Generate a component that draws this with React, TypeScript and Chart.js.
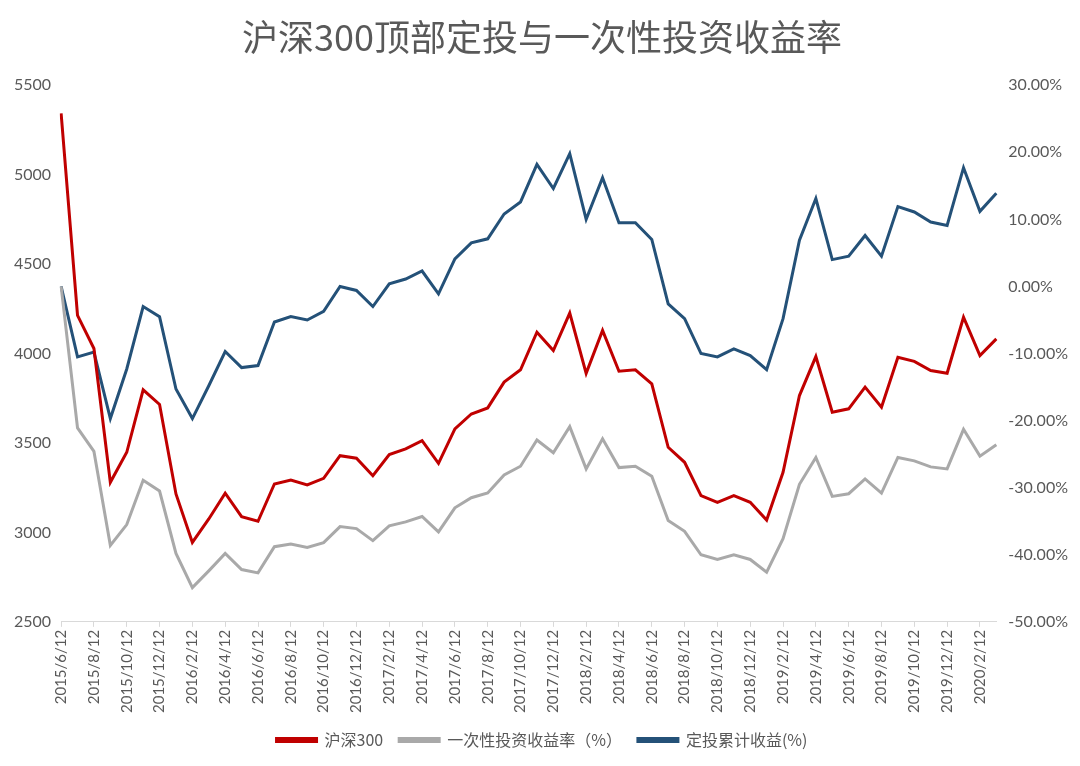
import React, { useEffect, useRef } from 'react';
import { Chart, registerables } from 'chart.js';

Chart.register(...registerables);

const TITLE = '沪深300顶部定投与一次性投资收益率';

const dates = [
  '2015/6/12', '2015/7/12', '2015/8/12', '2015/9/12', '2015/10/12', '2015/11/12', '2015/12/12',
  '2016/1/12', '2016/2/12', '2016/3/12', '2016/4/12', '2016/5/12', '2016/6/12', '2016/7/12',
  '2016/8/12', '2016/9/12', '2016/10/12', '2016/11/12', '2016/12/12',
  '2017/1/12', '2017/2/12', '2017/3/12', '2017/4/12', '2017/5/12', '2017/6/12', '2017/7/12',
  '2017/8/12', '2017/9/12', '2017/10/12', '2017/11/12', '2017/12/12',
  '2018/1/12', '2018/2/12', '2018/3/12', '2018/4/12', '2018/5/12', '2018/6/12', '2018/7/12',
  '2018/8/12', '2018/9/12', '2018/10/12', '2018/11/12', '2018/12/12',
  '2019/1/12', '2019/2/12', '2019/3/12', '2019/4/12', '2019/5/12', '2019/6/12', '2019/7/12',
  '2019/8/12', '2019/9/12', '2019/10/12', '2019/11/12', '2019/12/12',
  '2020/1/12', '2020/2/12', '2020/3/12',
];

// 沪深300 index level (left axis)
const hs300 = [
  5343, 4213, 4028, 3280, 3448, 3797, 3715,
  3215, 2944, 3075, 3219, 3088, 3062, 3271,
  3293, 3265, 3302, 3429, 3415,
  3317, 3435, 3467, 3513, 3386, 3579, 3662,
  3696, 3840, 3909, 4119, 4017,
  4226, 3889, 4129, 3901, 3909, 3831, 3476,
  3392, 3206, 3168, 3206, 3168,
  3069, 3336, 3765, 3983, 3672, 3691, 3812,
  3700, 3979, 3956, 3905, 3890,
  4203, 3989, 4082,
];

// 一次性投资收益率 (%), right axis
const lumpSum = [
  0.0, -21.1, -24.6, -38.6, -35.5, -28.9, -30.5,
  -39.8, -44.9, -42.4, -39.8, -42.2, -42.7, -38.8,
  -38.4, -38.9, -38.2, -35.8, -36.1,
  -37.9, -35.7, -35.1, -34.3, -36.6, -33.0, -31.5,
  -30.8, -28.1, -26.8, -22.9, -24.8,
  -20.9, -27.2, -22.7, -27.0, -26.8, -28.3, -34.9,
  -36.5, -40.0, -40.7, -40.0, -40.7,
  -42.6, -37.6, -29.5, -25.5, -31.3, -30.9, -28.7,
  -30.8, -25.5, -26.0, -26.9, -27.2,
  -21.3, -25.3, -23.6,
];

// 定投累计收益 (%), right axis
const dca = [
  0.0, -10.5, -9.8, -19.7, -12.3, -3.0, -4.5,
  -15.3, -19.7, -14.8, -9.7, -12.1, -11.8, -5.3,
  -4.5, -5.0, -3.7, 0.0, -0.6,
  -3.0, 0.4, 1.1, 2.3, -1.1, 4.1, 6.5,
  7.1, 10.8, 12.6, 18.2, 14.6,
  19.8, 10.0, 16.2, 9.5, 9.5, 7.0, -2.6,
  -4.8, -10.0, -10.5, -9.3, -10.3,
  -12.4, -4.8, 6.9, 13.1, 4.0, 4.5, 7.6,
  4.5, 11.9, 11.1, 9.6, 9.1,
  17.7, 11.2, 13.9,
];

const seriesNames = ['沪深300', '一次性投资收益率（%）', '定投累计收益(%)'];

export default function App() {
  const ref = useRef<HTMLCanvasElement | null>(null);

  useEffect(() => {
    document.body.style.margin = '0';
    if (!ref.current) return;
    const textColor = '#595959';
    const tickFont = { family: 'Lato, sans-serif', size: 16 };
    const chart = new Chart(ref.current, {
      type: 'line',
      data: {
        labels: dates,
        datasets: [
          {
            label: seriesNames[0],
            data: hs300,
            yAxisID: 'y',
            borderColor: '#C00000',
            backgroundColor: '#C00000',
            borderWidth: 3,
            pointRadius: 0,
            tension: 0,
          },
          {
            label: seriesNames[1],
            data: lumpSum,
            yAxisID: 'y1',
            borderColor: '#A9A9A9',
            backgroundColor: '#A9A9A9',
            borderWidth: 3,
            pointRadius: 0,
            tension: 0,
          },
          {
            label: seriesNames[2],
            data: dca,
            yAxisID: 'y1',
            borderColor: '#245178',
            backgroundColor: '#245178',
            borderWidth: 3,
            pointRadius: 0,
            tension: 0,
          },
        ],
      },
      options: {
        animation: false,
        responsive: false,
        devicePixelRatio: 1,
        layout: { padding: { left: 4, right: 0, top: 0, bottom: 8 } },
        plugins: {
          title: {
            display: true,
            text: TITLE,
            color: textColor,
            font: { family: '"Noto Sans CJK SC", sans-serif', size: 36, weight: 'normal' },
            padding: { top: 16, bottom: 26 },
          },
          legend: {
            position: 'bottom',
            labels: {
              color: textColor,
              font: { family: '"Noto Sans CJK SC", sans-serif', size: 16 },
              boxWidth: 40,
              boxHeight: 3,
              padding: 16,
            },
          },
          tooltip: { enabled: false },
        },
        scales: {
          x: {
            offset: false,
            grid: {
              drawOnChartArea: false,
              drawTicks: true,
              tickLength: 5,
              color: '#D9D9D9',
            },
            border: { display: true, color: '#D9D9D9' },
            ticks: {
              autoSkip: false,
              maxRotation: 90,
              minRotation: 90,
              color: textColor,
              font: { family: 'Lato, sans-serif', size: 15 },
              padding: 3,
              callback: (_v: any, i: number) => (i % 2 === 0 ? dates[i] : null),
            },
          },
          y: {
            position: 'left',
            min: 2500,
            max: 5500,
            grid: { display: false, drawTicks: false },
            border: { display: false },
            ticks: {
              stepSize: 500,
              color: textColor,
              font: tickFont,
              padding: 10,
              callback: (v: any) => String(v),
            },
          },
          y1: {
            position: 'right',
            min: -50,
            max: 30,
            grid: { display: false, drawTicks: false },
            border: { display: false },
            ticks: {
              stepSize: 10,
              color: textColor,
              font: tickFont,
              padding: 12,
              callback: (v: any) => Number(v).toFixed(2) + '%',
            },
          },
        },
      },
    });
    return () => chart.destroy();
  }, []);

  return (
    <div style={{ width: 1080, height: 766, background: '#fff' }}>
      <canvas ref={ref} width={1080} height={766} />
    </div>
  );
}
